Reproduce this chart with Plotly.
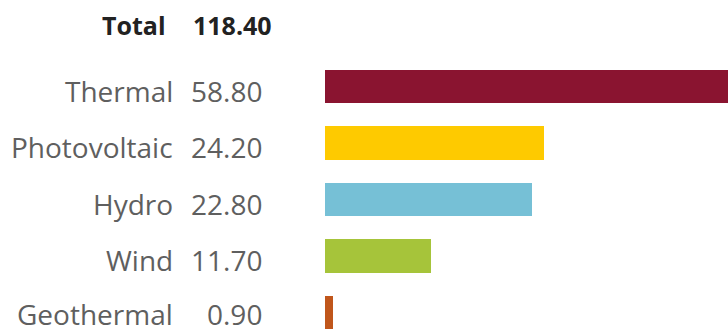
import plotly.graph_objects as go

# Electricity generation by source
sources = ["Thermal", "Photovoltaic", "Hydro", "Wind", "Geothermal"]
values = [58.80, 24.20, 22.80, 11.70, 0.90]
colors = ["#8A1430", "#FECA00", "#76C0D6", "#A6C43A", "#C0561B"]
total_label = "Total"
total_value = 118.40

W, H = 728, 333
left = 325
row_px = 56.5
first_center = 86.5
px_per_unit = 9.07

positions = list(range(len(sources)))
y_top = -first_center / row_px
y_bottom = (H - first_center) / row_px

fig = go.Figure(
    go.Bar(
        x=values,
        y=positions,
        orientation="h",
        marker=dict(color=colors, line=dict(width=0)),
        width=0.6,
        hoverinfo="skip",
    )
)

font = "Open Sans, Noto Sans, sans-serif"
label_font = dict(family=font, size=28, color="#5f5f5f")
annotations = []
for i, (name, val) in enumerate(zip(sources, values)):
    # keep the bottom row's text inside the canvas
    shift = -4 if i < len(sources) - 1 else -1
    annotations.append(dict(
        x=0, xref="paper", y=i, yref="y", text=name,
        xanchor="right", yanchor="middle", xshift=-(left - 174), yshift=shift,
        showarrow=False, font=label_font, borderpad=0,
    ))
    annotations.append(dict(
        x=0, xref="paper", y=i, yref="y", text=f"{val:.2f}",
        xanchor="right", yanchor="middle", xshift=-(left - 263), yshift=shift,
        showarrow=False, font=label_font, borderpad=0,
    ))

total_font = dict(family=font, size=25, color="#222222")
total_y = (25 - first_center) / row_px
annotations.append(dict(
    x=0, xref="paper", y=total_y, yref="y", text=f"<b>{total_label}</b>",
    xanchor="right", yanchor="middle", xshift=-(left - 167),
    showarrow=False, font=total_font, borderpad=0,
))
annotations.append(dict(
    x=0, xref="paper", y=total_y, yref="y", text=f"<b>{total_value:.2f}</b>",
    xanchor="right", yanchor="middle", xshift=-(left - 273),
    showarrow=False, font=total_font, borderpad=0,
))

fig.update_layout(
    width=W, height=H,
    margin=dict(l=left, r=0, t=0, b=0, pad=0),
    paper_bgcolor="white", plot_bgcolor="white",
    showlegend=False,
    bargap=0,
    xaxis=dict(range=[0, (W - left) / px_per_unit], visible=False, fixedrange=True),
    yaxis=dict(range=[y_bottom, y_top], visible=False, fixedrange=True),
    annotations=annotations,
)

fig.write_html("out.html", config={"displayModeBar": False})
